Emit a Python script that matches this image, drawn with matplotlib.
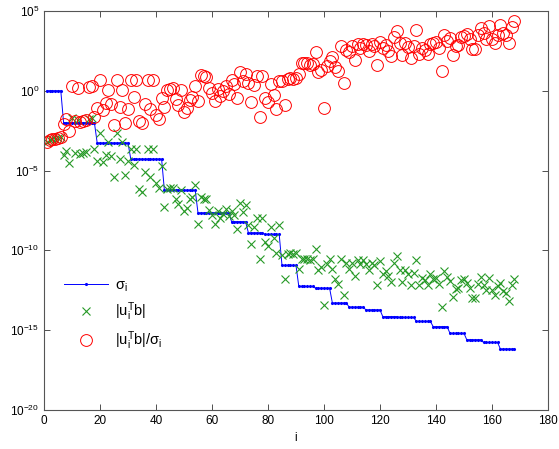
import numpy as np
import matplotlib
matplotlib.use("Agg")
import matplotlib.pyplot as plt
from matplotlib.ticker import FixedLocator, FuncFormatter

plt.rcParams['font.family'] = ['Liberation Sans', 'DejaVu Sans']
plt.rcParams['mathtext.fontset'] = 'custom'
plt.rcParams['mathtext.rm'] = 'Liberation Sans'
plt.rcParams['mathtext.it'] = 'Liberation Sans:italic'
plt.rcParams['mathtext.default'] = 'regular'

# log10 of singular values sigma_i
log_sigma = [
    0, 0, 0, 0, 0, 0,
    -2.0, -2.0, -2.0, -2.0, -2.0, -2.0,
    -2.0, -2.0, -2.0, -2.0, -2.0, -2.0,
    -3.27, -3.27, -3.27, -3.27, -3.27, -3.27,
    -3.27, -3.27, -3.27, -3.27, -3.27, -3.27,
    -4.28, -4.28, -4.28, -4.28, -4.28, -4.28,
    -4.28, -4.28, -4.28, -4.28, -4.28, -4.28,
    -6.23, -6.23, -6.23, -6.23, -6.23, -6.23,
    -6.23, -6.23, -6.23, -6.23, -6.23, -6.23,
    -7.65, -7.65, -7.65, -7.65, -7.65, -7.65,
    -7.65, -7.65, -7.65, -7.65, -7.65, -7.65,
    -8.2, -8.2, -8.2, -8.2, -8.2, -8.2,
    -8.9, -8.9, -8.9, -8.9, -8.9, -8.9,
    -9.0, -9.0, -9.0, -9.0, -9.0, -9.0,
    -10.94, -10.94, -10.94, -10.94, -10.94, -10.94,
    -12.26, -12.26, -12.26, -12.26, -12.26, -12.26,
    -12.37, -12.37, -12.37, -12.37, -12.37, -12.37,
    -13.3, -13.3, -13.3, -13.3, -13.3, -13.3,
    -13.56, -13.56, -13.56, -13.56, -13.56, -13.56,
    -13.73, -13.73, -13.73, -13.73, -13.73, -13.73,
    -14.15, -14.15, -14.15, -14.15, -14.15, -14.15,
    -14.2, -14.2, -14.2, -14.2, -14.2, -14.2,
    -14.45, -14.45, -14.45, -14.45, -14.45, -14.45,
    -14.78, -14.78, -14.78, -14.78, -14.78, -14.78,
    -15.2, -15.2, -15.2, -15.2, -15.2, -15.2,
    -15.6, -15.6, -15.6, -15.6, -15.6, -15.6,
    -15.77, -15.77, -15.77, -15.77, -15.77, -15.77,
    -16.18, -16.18, -16.18, -16.18, -16.18, -16.18,
]

# log10 |u_i^T b|
log_coef = [
    -3.2, -3.1, -3.0, -3.05, -2.95, -2.9,
    -4.05, -3.75, -4.5, -1.73, -3.9, -1.8,
    -3.95, -3.9, -3.85, -1.77, -1.73, -3.62,
    -4.37, -2.62, -4.47, -4.04, -3.21, -4.07,
    -5.41, -2.62, -4.3, -3.21, -5.27, -4.42,
    -3.63, -4.64, -3.63, -6.17, -6.31, -5.1,
    -3.63, -5.43, -3.63, -5.78, -6.06, -4.74,
    -7.26, -6.17, -6.1, -6.06, -6.75, -7.11,
    -6.21, -7.53, -7.32, -6.8, -6.63, -5.9,
    -8.32, -6.65, -6.75, -6.79, -7.48, -7.8,
    -8.32, -7.54, -7.96, -7.69, -7.38, -7.84,
    -7.51, -7.76, -8.66, -7.02, -7.61, -7.13,
    -8.42, -9.63, -8.52, -7.96, -10.55, -7.96,
    -9.46, -9.73, -8.56, -9.25, -10.15, -8.41,
    -10.31, -11.82, -10.2, -10.14, -10.2, -10.14,
    -11.19, -10.52, -10.52, -10.52, -10.62, -10.56,
    -9.94, -11.22, -11.05, -13.42, -10.84, -10.53,
    -11.18, -11.81, -12.09, -10.51, -12.78, -10.77,
    -11.15, -10.77, -11.61, -10.6, -10.87, -10.62,
    -10.88, -11.21, -10.79, -10.94, -12.14, -10.69,
    -11.46, -11.3, -11.63, -11.99, -10.8, -10.38,
    -11.2, -11.98, -11.2, -11.47, -12.14, -11.41,
    -10.61, -12.14, -11.76, -11.87, -12.14, -11.51,
    -11.78, -11.71, -12.09, -13.52, -11.26, -11.64,
    -11.89, -12.94, -12.41, -12.35, -11.85, -11.78,
    -12.03, -12.33, -12.98, -12.98, -12.12, -11.65,
    -12.14, -12.5, -11.72, -12.5, -12.77, -12.25,
    -12.03, -12.55, -12.7, -13.18, -12.18, -11.82,
]

# log10 |u_i^T b| / sigma_i
log_ratio = [
    -3.2, -3.1, -3.0, -3.05, -2.95, -2.9,
    -2.05, -1.75, -2.5, 0.27, -1.9, 0.2,
    -1.95, -1.9, -1.85, 0.23, 0.27, -1.62,
    -1.1, 0.65, -1.2, -0.77, 0.06, -0.8,
    -2.14, 0.65, -1.03, 0.06, -2.0, -1.15,
    0.65, -0.36, 0.65, -1.89, -2.03, -0.82,
    0.65, -1.15, 0.65, -1.5, -1.78, -0.46,
    -1.03, 0.06, 0.13, 0.17, -0.52, -0.88,
    0.02, -1.3, -1.09, -0.57, -0.4, 0.33,
    -0.67, 1.0, 0.9, 0.86, 0.17, -0.15,
    -0.67, 0.11, -0.31, -0.04, 0.27, -0.19,
    0.69, 0.44, -0.46, 1.18, 0.59, 1.07,
    0.48, -0.73, 0.38, 0.94, -1.65, 0.94,
    -0.46, -0.73, 0.44, -0.25, -1.15, 0.59,
    0.63, -0.88, 0.74, 0.8, 0.74, 0.8,
    1.07, 1.74, 1.74, 1.74, 1.64, 1.7,
    2.43, 1.15, 1.32, -1.05, 1.53, 1.84,
    2.12, 1.49, 1.21, 2.79, 0.52, 2.53,
    2.41, 2.79, 1.95, 2.96, 2.69, 2.94,
    2.85, 2.52, 2.94, 2.79, 1.59, 3.04,
    2.69, 2.85, 2.52, 2.16, 3.35, 3.77,
    3.0, 2.22, 3.0, 2.73, 2.06, 2.79,
    3.84, 2.31, 2.69, 2.58, 2.31, 2.94,
    3.0, 3.07, 2.69, 1.26, 3.52, 3.14,
    3.31, 2.26, 2.79, 2.85, 3.35, 3.42,
    3.57, 3.27, 2.62, 2.62, 3.48, 3.95,
    3.63, 3.27, 4.05, 3.27, 3.0, 3.52,
    4.15, 3.63, 3.48, 3.0, 4.0, 4.36,
]

x_ticks = [0, 20, 40, 60, 80, 100, 120, 140, 160, 180]
y_tick_exps = [-20, -15, -10, -5, 0, 5]
labels = [r'$\sigma_i$', r'$|u_i^Tb|$', r'$|u_i^Tb|/\sigma_i$']

i = np.arange(1, len(log_sigma) + 1)
sigma = 10.0 ** np.array(log_sigma)
coef = 10.0 ** np.array(log_coef)
ratio = 10.0 ** np.array(log_ratio)

fig = plt.figure(figsize=(5.59, 4.49), dpi=100)
ax = fig.add_axes([44 / 559, 1 - 410 / 449, 504 / 559, 399 / 449])

ax.semilogy(i, sigma, '-', color=(0, 0, 1), lw=0.7, marker='.', ms=2.5,
            label=labels[0])
ax.semilogy(i, coef, 'x', color=(0.15, 0.6, 0.15), ms=5.5, mew=0.8,
            label=labels[1])
ax.semilogy(i, ratio, 'o', mfc='none', mec=(1, 0, 0), ms=8.5, mew=0.7,
            label=labels[2])

ax.set_xlim(0, 180)
ax.set_ylim(1e-20, 1e5)
ax.xaxis.set_major_locator(FixedLocator(x_ticks))
ax.yaxis.set_major_locator(FixedLocator([10.0 ** e for e in y_tick_exps]))
ax.yaxis.set_minor_locator(FixedLocator([]))
ax.yaxis.set_major_formatter(FuncFormatter(
    lambda v, p: r'$10^{%d}$' % int(round(np.log10(v)))))
ax.tick_params(direction='in', top=True, right=True, length=4,
               labelsize=8.5, width=0.6, colors='#333333', labelcolor='black')
for s in ax.spines.values():
    s.set_linewidth(0.8)
    s.set_color('#555555')
ax.set_xlabel('i', fontsize=8.5, labelpad=4)

leg = ax.legend(loc='upper left', bbox_to_anchor=(0.022, 0.352), frameon=False,
                fontsize=10.5, handlelength=3.0, handletextpad=0.5,
                labelspacing=0.45, borderaxespad=0.2)

fig.savefig('out.png', dpi=100)
